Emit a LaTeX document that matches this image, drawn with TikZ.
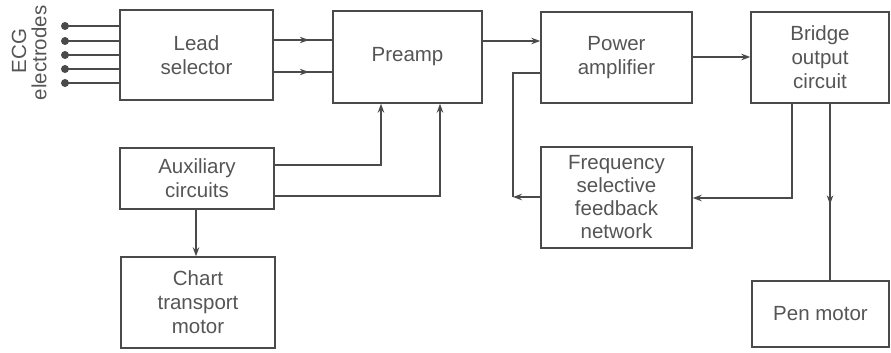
\documentclass[tikz,border=0pt]{standalone}
\usepackage{fontspec}
\setmainfont{Liberation Sans}
\usetikzlibrary{arrows.meta,decorations.markings,calc}
\definecolor{ink}{HTML}{4A4A4A}
\definecolor{txt}{HTML}{555555}
\begin{document}
\begin{tikzpicture}[x=1pt,y=-1pt,
  box/.style={draw=ink,line width=1.4pt,inner sep=0pt,align=center,text=txt,
    font=\fontsize{20.5}{24}\selectfont},
  conn/.style={draw=ink,line width=1.3pt},
  arr/.style={conn,-{Stealth[length=9pt,width=6.5pt]}},
  midarr/.style={conn,decoration={markings,mark=at position #1 with {\arrow{Stealth[length=9pt,width=6.5pt]}}},postaction={decorate}},
  midarr/.default=0.55,
  dot/.style={circle,fill=ink,inner sep=0pt,minimum size=8pt}]
\useasboundingbox (0,0) rectangle (891,353);
\node[box,minimum width=153pt,minimum height=90pt] (lead) at (196.5,55) {Lead\\selector};
\node[box,minimum width=149pt,minimum height=92pt] (pre) at (407.5,57) {Preamp};
\node[box,minimum width=151pt,minimum height=91pt] (pa) at (616.5,57.5) {Power\\amplifier};
\node[box,minimum width=138pt,minimum height=91pt] (br) at (820,57.5) {Bridge\\output\\circuit};
\node[box,minimum width=154pt,minimum height=61pt] (aux) at (197,178.5) {Auxiliary\\circuits};
\node[box,minimum width=154pt,minimum height=91pt] (chart) at (198,302.5) {Chart\\transport\\motor};
\node[box,minimum width=151pt,minimum height=101pt,font=\fontsize{20.5}{23}\selectfont] (fs) at (616.5,197.5) {Frequency\\selective\\feedback\\network};
\node[box,minimum width=137pt,minimum height=66pt] (pen) at (820.5,314) {Pen motor};
% electrodes label
\node[rotate=90,text=txt,font=\fontsize{20.5}{24}\selectfont] (ecg) at (19,51) {ECG};
\node[rotate=90,text=txt,font=\fontsize{20.5}{24}\selectfont] (el) at (39,53) {electrodes};
\foreach \i/\yy in {1/26,2/41,3/55,4/69,5/83}{
  \node[dot] (e\i) at (65,\yy) {};
  \draw[conn] (e\i.center) -- (e\i.center -| lead.west);
}
% lead -> preamp
\path[midarr=0.6] (lead.east |- 0,40) -- (pre.west |- 0,40);
\path[midarr=0.6] (lead.east |- 0,72) -- (pre.west |- 0,72);
% preamp -> power amp
\draw[arr] (pre.east |- 0,41) -- (pa.west |- 0,41);
% power amp -> bridge
\draw[arr] (pa.east |- 0,57) -- (br.west |- 0,57);
% bridge -> feedback network
\coordinate (b1) at (792,0);
\draw[arr] (b1 |- br.south) |- (fs.east |- 0,198);
% feedback network -> power amp
\coordinate (fbc) at (513,197);
\draw[arr] (fs.west |- fbc) -- (fbc);
\draw[conn] (fbc) |- (pa.west |- 0,73);
% bridge -> pen motor
\coordinate (b2) at (830,0);
\path[midarr=0.57] (b2 |- br.south) -- (b2 |- pen.north);
% auxiliary -> preamp
\coordinate (p1) at (381,0);
\coordinate (p2) at (440,0);
\draw[arr] (aux.east |- 0,165) -| (p1 |- pre.south);
\draw[arr] (aux.east |- 0,196) -| (p2 |- pre.south);
% auxiliary -> chart
\coordinate (c1) at (196,0);
\draw[arr] (c1 |- aux.south) -- (c1 |- chart.north);
\end{tikzpicture}
\end{document}
